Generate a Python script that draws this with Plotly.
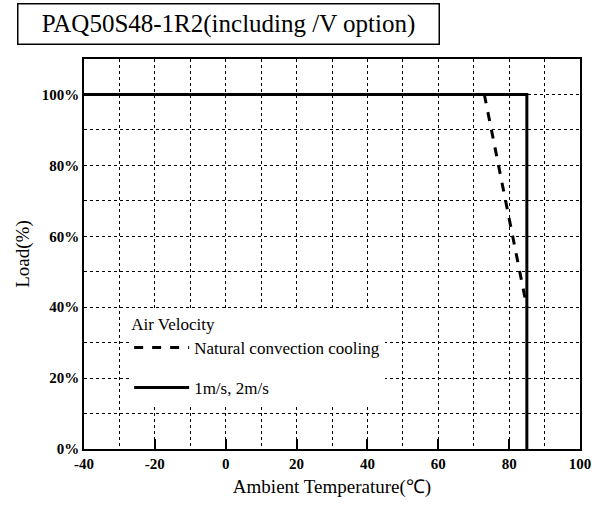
import plotly.graph_objects as go

# Data
solid_x = [-40, 85, 85]
solid_y = [100, 100, 0]
dashed_x = [73, 85]
dashed_y = [100, 40]
x_ticks = [-40, -20, 0, 20, 40, 60, 80, 100]
y_ticks = [0, 20, 40, 60, 80, 100]
y_tick_labels = ["0%", "20%", "40%", "60%", "80%", "100%"]
series_names = ["Natural convection cooling", "1m/s, 2m/s"]
title_text = "PAQ50S48-1R2(including /V option)"

SERIF = "Liberation Serif"

fig = go.Figure()
fig.add_trace(go.Scatter(
    x=dashed_x, y=dashed_y, mode="lines", name=series_names[0],
    line=dict(color="black", width=3, dash="dash"), legendgroup="a"))
fig.add_trace(go.Scatter(
    x=solid_x, y=solid_y, mode="lines", name=series_names[1],
    line=dict(color="black", width=3), legendgroup="b"))

fig.update_layout(
    width=595, height=507,
    margin=dict(l=84, r=15, t=59, b=58),
    paper_bgcolor="white", plot_bgcolor="white",
    font=dict(family=SERIF, color="black"),
    showlegend=True,
    legend=dict(
        x=0.091, y=0.362, xanchor="left", yanchor="top",
        bgcolor="white", borderwidth=0,
        title=dict(text="Air Velocity", font=dict(family=SERIF, size=17, color="black")),
        font=dict(family=SERIF, size=17, color="black"),
        tracegroupgap=15, itemwidth=55,
    ),
    xaxis=dict(
        range=[-40, 100], tickmode="array", tickvals=x_ticks,
        ticktext=[str(v) for v in x_ticks],
        ticks="inside", ticklen=10, tickwidth=1.5, tickcolor="black",
        tickfont=dict(family=SERIF, size=15, color="black", weight="bold"),
        showline=True, linecolor="black", linewidth=1.5, mirror=True,
        showgrid=True, gridcolor="black", gridwidth=1, griddash="dot",
        minor=dict(dtick=10, showgrid=True, gridcolor="black", gridwidth=1, griddash="dot"),
        zeroline=False, automargin=False,
        title=dict(text="Ambient Temperature(℃)", font=dict(family=SERIF, size=19, color="black"), standoff=9),
    ),
    yaxis=dict(
        range=[0, 110], tickmode="array", tickvals=y_ticks, ticktext=y_tick_labels,
        ticks="", tickfont=dict(family=SERIF, size=15, color="black", weight="bold"),
        showline=True, linecolor="black", linewidth=1.5, mirror=True,
        showgrid=True, gridcolor="black", gridwidth=1, griddash="dot",
        minor=dict(dtick=10, showgrid=True, gridcolor="black", gridwidth=1, griddash="dot"),
        zeroline=False, automargin=False,
        title=dict(text="Load(%)", font=dict(family=SERIF, size=19, color="black"), standoff=7),
    ),
    annotations=[dict(
        text=title_text, xref="paper", yref="paper",
        x=(17 - 84) / 496, y=(449 - 3) / 390, xanchor="left", yanchor="top",
        showarrow=False, width=418, height=37, align="center",
        font=dict(family=SERIF, size=25, color="black"),
        bordercolor="black", borderwidth=1.5, borderpad=1,
    )],
)

fig.write_html(
    "out.html",
    config={"displayModeBar": False},
    post_script="document.body.style.margin='0';document.body.style.overflow='hidden';",
)
